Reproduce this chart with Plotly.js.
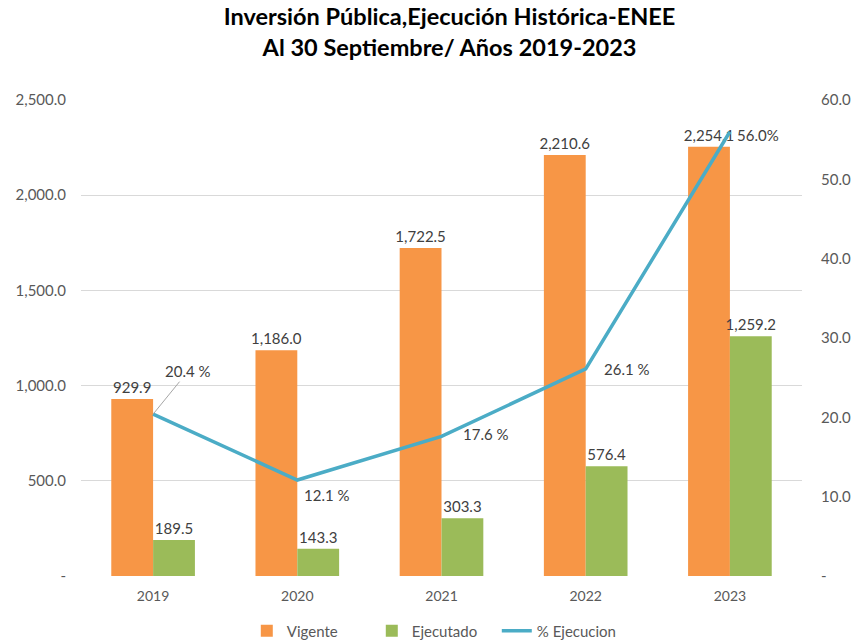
<!DOCTYPE html>
<html>
<head>
<meta charset="utf-8">
<script src="https://cdn.plot.ly/plotly-3.0.1.min.js"></script>
<style>html,body{margin:0;padding:0;background:#fff;}#chart{width:853px;height:642px;}</style>
</head>
<body>
<div id="chart"></div>
<script>
const years = ['2019', '2020', '2021', '2022', '2023'];
const vigente = [929.9, 1186.0, 1722.5, 2210.6, 2254.1];
const ejecutado = [189.5, 143.3, 303.3, 576.4, 1259.2];
const pctEjecucion = [20.4, 12.1, 17.6, 26.1, 56.0];
const pctLabels = ['20.4 %', '12.1 %', '17.6 %', '26.1 %', '56.0%'];
const leftTickVals = [0, 500, 1000, 1500, 2000, 2500];
const leftTickText = ['-', '500.0', '1,000.0', '1,500.0', '2,000.0', '2,500.0'];
const rightTickVals = [0, 10, 20, 30, 40, 50, 60];
const rightTickText = ['-', '10.0', '20.0', '30.0', '40.0', '50.0', '60.0'];

const xIdx = years.map((_, i) => i);
const fmt = v => v.toLocaleString('en-US', {minimumFractionDigits: 1, maximumFractionDigits: 1});
const FONT = 'Lato, "Open Sans", sans-serif';
const LABEL_COLOR = '#404040';
const TICK_COLOR = '#595959';

// label placement offsets (pixels) for the % labels
const pctOffsets = [[35, -43, true], [30, 15, false], [44, -2, false], [41, 0, false], [28, 3, false]];

const traces = [
  {
    type: 'bar', name: 'Vigente', x: xIdx, y: vigente,
    marker: {color: '#F79646'},
    text: vigente.map(fmt), textposition: 'outside', cliponaxis: false, constraintext: 'none',
    textfont: {family: FONT, size: 15, color: LABEL_COLOR}
  },
  {
    type: 'bar', name: 'Ejecutado', x: xIdx, y: ejecutado,
    marker: {color: '#9BBB59'},
    text: ejecutado.map(fmt), textposition: 'outside', cliponaxis: false, constraintext: 'none',
    textfont: {family: FONT, size: 15, color: LABEL_COLOR}
  },
  {
    type: 'scatter', mode: 'lines', name: '% Ejecucion', x: xIdx, y: pctEjecucion,
    yaxis: 'y2', line: {color: '#4BACC6', width: 3.5}
  }
];

const annotations = pctEjecucion.map((v, i) => {
  const [dx, dy, arrow] = pctOffsets[i];
  return {
    x: xIdx[i], y: v, xref: 'x', yref: 'y2', text: pctLabels[i],
    font: {family: FONT, size: 15, color: LABEL_COLOR},
    showarrow: true, ax: dx, ay: dy,
    arrowwidth: 1, arrowcolor: arrow ? '#a6a6a6' : 'rgba(0,0,0,0)', arrowhead: 0,
    standoff: 0, startstandoff: 0
  };
});

const layout = {
  width: 853, height: 642,
  paper_bgcolor: '#fff', plot_bgcolor: '#fff',
  margin: {l: 81, r: 51, t: 100, b: 66},
  title: {
    text: '<b>Inversión Pública,Ejecución Histórica-ENEE<br>Al 30 Septiembre/ Años 2019-2023</b>',
    font: {family: FONT, size: 23.5, color: '#000'},
    x: 0.527, xanchor: 'center', y: 0.961, yanchor: 'middle'
  },
  barmode: 'group', bargap: 0.42, bargroupgap: 0,
  xaxis: {
    range: [-0.5, 4.5], tickvals: xIdx, ticktext: years, automargin: false,
    showgrid: false, zeroline: false, showline: false,
    ticks: '', ticklabelstandoff: 10, tickfont: {family: FONT, size: 14, color: TICK_COLOR}
  },
  yaxis: {
    range: [0, 2500], tickvals: leftTickVals, ticktext: leftTickText, automargin: false,
    showgrid: true, gridcolor: '#d9d9d9', gridwidth: 1, zeroline: false, showline: false,
    ticks: '', ticklabelstandoff: 14,
    tickfont: {family: FONT, size: 15, color: TICK_COLOR}
  },
  yaxis2: {
    range: [0, 60], overlaying: 'y', side: 'right', tickvals: rightTickVals, ticktext: rightTickText,
    automargin: false,
    showgrid: false, zeroline: false, showline: false, ticks: '', ticklabelstandoff: 18,
    tickfont: {family: FONT, size: 15, color: TICK_COLOR}
  },
  legend: {
    orientation: 'h', x: 0.49, xanchor: 'center', yref: 'container', y: 0.017, yanchor: 'middle',
    entrywidth: 80, entrywidthmode: 'pixels',
    font: {family: FONT, size: 15, color: TICK_COLOR}, traceorder: 'normal'
  },
  annotations: annotations,
  showlegend: true
};

Plotly.newPlot('chart', traces, layout, {displayModeBar: false, staticPlot: true});
</script>
</body>
</html>
